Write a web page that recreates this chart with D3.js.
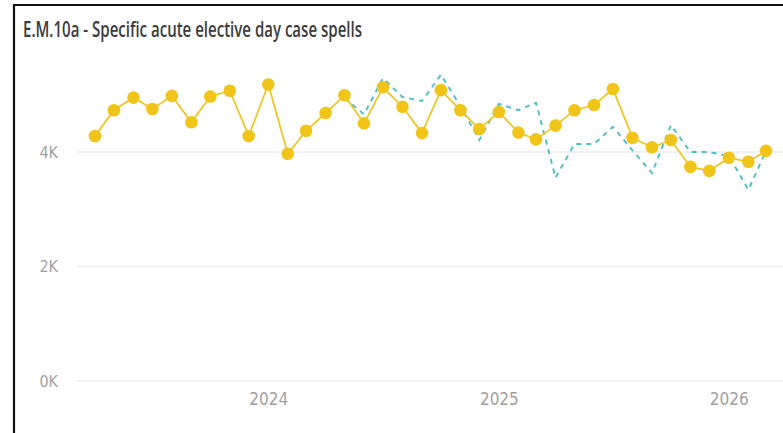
<!DOCTYPE html>
<html>
<head>
<meta charset="utf-8">
<script src="https://cdn.jsdelivr.net/npm/d3@7"></script>
<style>
  html, body { margin: 0; padding: 0; background: #fff; }
  svg { display: block; }
</style>
</head>
<body>
<svg id="chart" width="783" height="433"></svg>
<script>
// Monthly periods, April 2023 to March 2026
const months = [
  "2023-04","2023-05","2023-06","2023-07","2023-08","2023-09","2023-10","2023-11","2023-12",
  "2024-01","2024-02","2024-03","2024-04","2024-05","2024-06","2024-07","2024-08","2024-09",
  "2024-10","2024-11","2024-12","2025-01","2025-02","2025-03","2025-04","2025-05","2025-06",
  "2025-07","2025-08","2025-09","2025-10","2025-11","2025-12","2026-01","2026-02","2026-03"
];

// Actual day case spells
const actual = [
  4280, 4730, 4950, 4750, 4980, 4520, 4970, 5070, 4280,
  5180, 3970, 4370, 4680, 4990, 4500, 5130, 4790, 4330,
  5080, 4730, 4400, 4700, 4340, 4220, 4460, 4730, 4820,
  5100, 4250, 4080, 4210, 3740, 3670, 3900, 3830, 4020
];

// Comparison series (dashed), available from May 2024
const comparison = [
  null, null, null, null, null, null, null, null, null,
  null, null, null, null, 4940, 4660, 5290, 4960, 4890,
  5350, 4800, 4210, 4840, 4730, 4860, 3550, 4140, 4140,
  4440, 4030, 3630, 4470, 4000, 4000, 3930, 3340, 4020
];

const yTicks = [0, 2000, 4000];
const yearTicks = ["2024-01", "2025-01", "2026-01"];
const title = "E.M.10a - Specific acute elective day case spells";

const parse = d3.timeParse("%Y-%m");
const dates = months.map(parse);

const svg = d3.select("#chart");

// Frame
svg.append("path")
  .attr("d", "M14,440 L14,5 L790,5")
  .attr("fill", "none")
  .attr("stroke", "#111")
  .attr("stroke-width", 2.2);

// Title
svg.append("text")
  .attr("x", 23)
  .attr("y", 37)
  .attr("font-family", "'Open Sans', 'DejaVu Sans Condensed', sans-serif")
  .attr("font-weight", 600)
  .attr("font-size", 22)
  .attr("fill", "#3c3c3c")
  .attr("textLength", 339)
  .attr("lengthAdjust", "spacingAndGlyphs")
  .text(title);

const x = d3.scaleTime()
  .domain([dates[0], dates[dates.length - 1]])
  .range([95, 766]);

const y = d3.scaleLinear()
  .domain([0, 6000])
  .range([381, 37.5]);

// Gridlines
svg.append("g")
  .selectAll("line")
  .data(yTicks)
  .join("line")
  .attr("x1", 77)
  .attr("x2", 783)
  .attr("y1", d => y(d))
  .attr("y2", d => y(d))
  .attr("stroke", "#ececec")
  .attr("stroke-width", 1.3);

// Y axis labels
const yAxis = d3.axisLeft(y)
  .tickValues(yTicks)
  .tickSize(0)
  .tickPadding(0)
  .tickFormat(d => (d / 1000) + "K");

svg.append("g")
  .attr("transform", "translate(58,0)")
  .call(yAxis)
  .call(g => g.select(".domain").remove())
  .call(g => g.selectAll("text")
    .attr("font-family", "'DejaVu Sans Condensed', 'DejaVu Sans', sans-serif")
    .attr("font-size", 16)
    .attr("fill", "#a3a3a3"));

// X axis labels
const xAxis = d3.axisBottom(x)
  .tickValues(yearTicks.map(parse))
  .tickSize(0)
  .tickPadding(0)
  .tickFormat(d3.timeFormat("%Y"));

svg.append("g")
  .attr("transform", "translate(0,393)")
  .call(xAxis)
  .call(g => g.select(".domain").remove())
  .call(g => g.selectAll("text")
    .attr("font-family", "'DejaVu Sans Condensed', 'DejaVu Sans', sans-serif")
    .attr("font-size", 17)
    .attr("fill", "#a0a0a0"));

// Comparison dashed line
const compData = dates.map((d, i) => ({ d, v: comparison[i] }));
svg.append("path")
  .datum(compData)
  .attr("fill", "none")
  .attr("stroke", "#4cbfc4")
  .attr("stroke-width", 1.9)
  .attr("stroke-dasharray", "5,5")
  .attr("d", d3.line()
    .defined(p => p.v !== null)
    .x(p => x(p.d))
    .y(p => y(p.v)));

// Actual line with markers
const actData = dates.map((d, i) => ({ d, v: actual[i] }));
svg.append("path")
  .datum(actData)
  .attr("fill", "none")
  .attr("stroke", "#f0c419")
  .attr("stroke-width", 1.7)
  .attr("d", d3.line().x(p => x(p.d)).y(p => y(p.v)));

svg.append("g")
  .selectAll("circle")
  .data(actData)
  .join("circle")
  .attr("cx", p => x(p.d))
  .attr("cy", p => y(p.v))
  .attr("r", 6.3)
  .attr("fill", "#f0c419");
</script>
</body>
</html>
